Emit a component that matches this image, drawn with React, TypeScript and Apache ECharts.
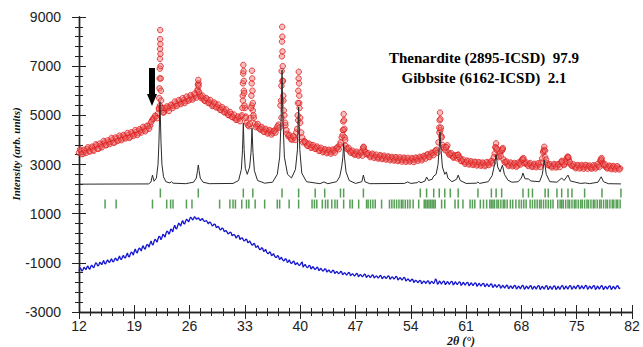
import React, { useEffect, useRef } from "react";
import * as echarts from "echarts";

// ---- data (2θ in degrees, intensity in arb. units) ----
const OBS_START = 12;
const OBS_STEP = 0.25;
// observed intensity on a 0.25° grid, 12° .. 80.5°
const obsGrid = [
  3480, 3560, 3440, 3530, 3620, 3540, 3660, 3590, 3700, 3780, 3650, 3760,
  3830, 3900, 3800, 3910, 3920, 4010, 3900, 4050, 3990, 4100, 4060, 4150,
  4110, 4200, 4130, 4250, 4230, 4330, 4270, 4380, 4400, 4470, 4420, 4560,
  4580, 4800, 4900, 4960, 5080, 5400, 5200, 5120, 5230, 5300, 5320, 5400,
  5380, 5480, 5450, 5560, 5530, 5620, 5580, 5680, 5650, 5760, 5720, 5820,
  6000, 5850, 5700, 5680, 5580, 5640, 5520, 5480, 5400, 5460, 5340, 5300,
  5220, 5260, 5140, 5100, 5000, 5050, 4920, 4900, 4820, 4870, 4950, 5600,
  5300, 4700, 4560, 4900, 5200, 4650, 4580, 4500, 4420, 4460, 4330, 4380,
  4300, 4340, 4280, 4380, 4450, 4620, 5400, 6400, 5000, 4400, 4150, 4100,
  4020, 4100, 4300, 4800, 4900, 4100, 3950, 3880, 3760, 3800, 3700, 3720,
  3640, 3680, 3580, 3600, 3530, 3580, 3500, 3560, 3500, 3560, 3620, 3700,
  3800, 4100, 4400, 3750, 3620, 3560, 3500, 3460, 3420, 3460, 3400, 3480,
  3700, 3500, 3420, 3380, 3350, 3400, 3320, 3300, 3280, 3340, 3260, 3300,
  3240, 3290, 3220, 3260, 3200, 3250, 3180, 3230, 3190, 3240, 3160, 3200,
  3170, 3230, 3180, 3250, 3220, 3280, 3240, 3330, 3380, 3320, 3400, 3460,
  3500, 3600, 3900, 4400, 3800, 3650, 3700, 3480, 3420, 3350, 3300, 3360,
  3400, 3250, 3150, 3100, 3080, 3120, 3040, 3080, 3020, 3080, 3000, 3050,
  2990, 3040, 2980, 3060, 3050, 3150, 3300, 3700, 3350, 3450, 3550, 3200,
  3080, 3020, 2980, 3030, 2970, 3020, 2960, 3050, 3150, 3200, 3050, 3000,
  3020, 2960, 2940, 2990, 2950, 3000, 3080, 3500, 3300, 3050, 2960, 2930,
  2940, 2990, 2920, 3000, 3080, 3050, 3020, 3250, 3200, 3000, 2940, 2900,
  2900, 2950, 2880, 2930, 2890, 2950, 2920, 2880, 2880, 2930, 2900, 2960,
  3150, 3100, 2950, 2900, 2870, 2920, 2850, 2900, 2850, 2880, 2840,
];
// observed intensity at the intermediate steps, 12.125° .. 80.375°
const obsGridMid = [
  3610, 3420, 3600, 3470, 3700, 3530, 3720, 3560, 3820, 3640, 3850, 3700,
  3960, 3780, 3980, 3830, 4080, 3880, 4100, 3960, 4170, 3990, 4200, 4060,
  4280, 4080, 4310, 4160, 4400, 4200, 4430, 4300, 4530, 4350, 4580, 4460,
  4720, 4850, 4980, 4880, 5250, 5300, 5120, 5300, 5360, 5180, 5430, 5300,
  5560, 5380, 5620, 5460, 5700, 5500, 5760, 5600, 5820, 5640, 5880, 5720,
  6300, 5780, 5800, 5600, 5700, 5500, 5620, 5380, 5520, 5320, 5440, 5220,
  5330, 5120, 5240, 5020, 5130, 4930, 5030, 4820, 4950, 4760, 5000, 6000,
  4950, 4600, 4650, 5400, 4900, 4520, 4650, 4440, 4520, 4330, 4450, 4260,
  4400, 4220, 4360, 4300, 4550, 4500, 4900, 5600, 4600, 4250, 4200, 4020,
  4150, 4000, 4450, 5500, 4300, 3900, 3920, 3770, 3850, 3680, 3790, 3640,
  3730, 3550, 3680, 3500, 3620, 3460, 3600, 3440, 3610, 3480, 3680, 3620,
  3900, 4200, 4100, 3650, 3680, 3480, 3560, 3400, 3520, 3360, 3500, 3360,
  3580, 3420, 3460, 3300, 3440, 3270, 3400, 3240, 3380, 3220, 3360, 3200,
  3330, 3170, 3310, 3160, 3300, 3140, 3290, 3120, 3280, 3110, 3270, 3120,
  3260, 3100, 3280, 3150, 3310, 3170, 3350, 3240, 3420, 3300, 3480, 3380,
  3560, 3480, 4300, 4150, 3700, 3580, 3780, 3400, 3460, 3280, 3380, 3250,
  3300, 3140, 3200, 3030, 3160, 3000, 3130, 2980, 3110, 2960, 3100, 2950,
  3080, 2930, 3100, 2980, 3120, 3050, 3450, 3600, 3300, 3350, 3620, 3100,
  3120, 2940, 3080, 2930, 3060, 2910, 3080, 3000, 3220, 3050, 3080, 2940,
  3060, 2900, 3030, 2890, 3050, 2900, 3250, 3600, 3200, 2980, 3010, 2880,
  3020, 2880, 3010, 2900, 3150, 2980, 3120, 3280, 3100, 2950, 3000, 2850,
  2980, 2840, 2980, 2830, 2980, 2830, 2960, 2830, 2970, 2840, 3010, 2900,
  3200, 3000, 3000, 2840, 2950, 2810, 2940, 2800, 2930, 2800,
];
// extra observed points on the sharp Bragg peaks [2θ, intensity]
const obsPeaks: [number, number][] = [
  [22.12, 5300], [22.16, 5700], [22.19, 6100], [22.21, 6500], [22.23, 6900], [22.25, 7300],
  [22.26, 7700], [22.27, 8100], [22.28, 8470], [22.3, 7900], [22.31, 7500], [22.33, 7000],
  [22.35, 6500], [22.37, 6000], [22.4, 5600], [22.45, 5300],
  [27.02, 6050], [27.06, 6250], [27.1, 6440], [27.14, 6200], [27.2, 5950],
  [32.68, 5300], [32.72, 5800], [32.75, 6300], [32.78, 6700], [32.8, 7050], [32.83, 6800],
  [32.86, 6400], [32.9, 5900], [32.95, 5400], [33.05, 4900],
  [33.78, 5300], [33.82, 5800], [33.86, 6300], [33.9, 6815], [33.93, 6500], [33.96, 6000],
  [34.0, 5500], [34.08, 5000],
  [37.58, 5600], [37.62, 6200], [37.65, 6800], [37.68, 7400], [37.7, 8000], [37.72, 8600],
  [37.74, 8200], [37.76, 7600], [37.79, 7000], [37.82, 6400], [37.86, 5800], [37.92, 5200],
  [38.1, 4700],
  [39.68, 5000], [39.72, 5500], [39.76, 6000], [39.8, 6500], [39.82, 6770], [39.85, 6300],
  [39.88, 5800], [39.92, 5300], [40.0, 4700],
  [45.4, 4400], [45.45, 4750], [45.5, 5050], [45.55, 4800], [45.6, 4450], [45.7, 4000],
  [47.95, 3650], [48.02, 3720],
  [57.6, 4500], [57.65, 4800], [57.7, 5110], [57.75, 4850], [57.8, 4500], [57.9, 4100],
  [58.45, 3700], [59.95, 3390],
  [64.7, 3700], [64.8, 3860], [64.9, 3650], [65.55, 3600], [65.65, 3670],
  [68.15, 3200], [68.25, 3260], [70.8, 3550], [70.9, 3720], [71.0, 3560],
  [73.1, 3110], [73.85, 3320], [73.95, 3300], [78.05, 3200], [78.15, 3260],
];
// calculated profile [2θ, intensity]
const calcPts: [number, number][] = [
  [12, 2200], [20.8, 2210], [21.1, 2280], [21.3, 2570], [21.5, 2320], [21.8, 2450], [22.0, 3000],
  [22.12, 3900], [22.25, 5555], [22.38, 3900], [22.5, 3000], [22.7, 2500], [23.0, 2300],
  [23.5, 2250], [23.7, 2300], [23.9, 2240], [25.5, 2220], [26.5, 2280], [26.85, 2450],
  [27.0, 2750], [27.1, 2980], [27.2, 2750], [27.35, 2450], [27.7, 2280], [28.5, 2220],
  [31.5, 2230], [32.2, 2350], [32.55, 2800], [32.7, 3600], [32.8, 4690], [32.9, 3600],
  [33.05, 2850], [33.3, 2600], [33.6, 2900], [33.78, 3500], [33.9, 4480], [34.02, 3500],
  [34.2, 2750], [34.6, 2350], [35.5, 2240], [36.5, 2280], [37.1, 2600], [37.4, 3300],
  [37.58, 4800], [37.7, 6840], [37.82, 4800], [38.0, 3300], [38.4, 2600], [38.9, 2450],
  [39.4, 2800], [39.65, 3600], [39.8, 5340], [39.95, 3600], [40.2, 2650], [40.8, 2300],
  [42.5, 2220], [43.0, 2290], [43.5, 2220], [44.6, 2300], [45.0, 2500], [45.25, 2900],
  [45.4, 3300], [45.5, 3860], [45.6, 3300], [45.8, 2700], [46.2, 2350], [47.0, 2230],
  [47.8, 2300], [48.0, 2570], [48.2, 2300], [48.8, 2220], [53.2, 2230], [53.6, 2290],
  [54.0, 2230], [54.8, 2260], [55.0, 2310], [55.3, 2260], [55.8, 2330], [56.0, 2490],
  [56.25, 2350], [56.7, 2400], [56.9, 2530], [57.2, 2600], [57.45, 3000], [57.6, 3700],
  [57.7, 4330], [57.8, 3700], [58.0, 2900], [58.3, 2600], [58.5, 2700], [58.7, 2450],
  [59.2, 2300], [59.8, 2400], [60.0, 2570], [60.25, 2350], [61.0, 2230], [62.3, 2240],
  [62.5, 2290], [62.7, 2230], [63.8, 2300], [64.3, 2550], [64.6, 3000], [64.8, 3400],
  [65.0, 2900], [65.3, 2700], [65.6, 2980], [65.85, 2600], [66.3, 2360], [66.8, 2280],
  [67.6, 2300], [68.0, 2450], [68.2, 2650], [68.45, 2420], [68.9, 2410], [69.2, 2330],
  [70.3, 2300], [70.65, 2600], [70.9, 3180], [71.15, 2600], [71.6, 2300], [72.5, 2280],
  [73.1, 2450], [73.4, 2350], [73.9, 2570], [74.2, 2330], [75.5, 2230], [76.1, 2250],
  [76.6, 2220], [77.7, 2280], [78.1, 2500], [78.4, 2300], [79.0, 2220], [80.6, 2210],
];
// difference curve on the 0.25° grid
const diffGrid = [
  -1320, -1250, -1290, -1220, -1180, -1230, -1140, -1170, -1090, -1040, -1100, -1010,
  -990, -1030, -940, -960, -900, -940, -860, -880, -810, -850, -760, -790,
  -690, -730, -640, -600, -530, -560, -470, -430, -380, -410, -320, -280,
  -210, -240, -130, -90, -30, 60, 30, 120, 190, 260, 240, 340,
  440, 400, 520, 560, 640, 600, 700, 730, 770, 820, 790, 840,
  800, 760, 780, 730, 700, 650, 660, 580, 530, 560, 460, 420,
  360, 390, 300, 250, 200, 230, 140, 110, 50, 90, 0, -30,
  -100, -60, -160, -200, -280, -240, -350, -390, -450, -420, -510, -560,
  -620, -590, -680, -720, -780, -730, -830, -860, -900, -860, -950, -970,
  -1000, -960, -1040, -1060, -1080, -960, -1110, -1140, -1170, -1130, -1200, -1220,
  -1240, -1210, -1270, -1290, -1300, -1260, -1330, -1350, -1360, -1320, -1390, -1400,
  -1410, -1370, -1440, -1450, -1450, -1410, -1480, -1490, -1490, -1450, -1510, -1520,
  -1520, -1480, -1550, -1540, -1550, -1510, -1570, -1560, -1570, -1540, -1600, -1580,
  -1590, -1550, -1620, -1600, -1610, -1580, -1650, -1640, -1650, -1620, -1700, -1690,
  -1720, -1680, -1750, -1740, -1770, -1730, -1800, -1760, -1790, -1740, -1820, -1780,
  -1790, -1700, -1830, -1790, -1800, -1760, -1840, -1800, -1810, -1770, -1850, -1820,
  -1830, -1790, -1870, -1840, -1850, -1810, -1890, -1860, -1870, -1830, -1910, -1880,
  -1890, -1850, -1930, -1900, -1920, -1870, -1960, -1930, -1950, -1910, -1990, -1960,
  -1970, -1930, -2010, -1980, -1980, -1940, -2020, -1990, -1980, -1940, -2030, -1990,
  -1990, -1950, -2030, -1990, -1990, -1940, -2030, -2000, -1990, -1950, -2040, -2000,
  -2000, -1950, -2040, -2010, -1990, -1940, -2030, -2000, -1990, -1940, -2030, -1990,
  -1980, -1930, -2020, -1990, -1980, -1940, -2030, -1990, -1990, -1940, -2040, -2000,
  -1990, -1950, -2040, -2000, -2000, -1950, -2040, -2000, -1990, -1950, -2010,
];
// difference curve at the intermediate steps, 12.125° .. 80.375°
const diffGridMid = [
  -1200, -1340, -1180, -1280, -1130, -1260, -1090, -1200, -1000, -1130, -970, -1080,
  -900, -1040, -880, -990, -830, -960, -800, -910, -720, -860, -690, -800,
  -600, -760, -560, -690, -440, -600, -400, -520, -300, -450, -250, -360,
  -110, -280, -40, -160, 80, -60, 160, 40, 290, 160, 380, 260,
  530, 380, 620, 490, 720, 580, 780, 660, 860, 740, 880, 770,
  830, 720, 800, 680, 720, 580, 650, 500, 580, 430, 480, 340,
  420, 270, 310, 170, 250, 100, 150, 10, 120, -50, 20, -110,
  -30, -180, -110, -270, -200, -370, -300, -460, -380, -540, -450, -620,
  -550, -710, -620, -780, -700, -870, -770, -920, -830, -990, -880, -1030,
  -930, -1080, -990, -1110, -1010, -1180, -1060, -1200, -1100, -1250, -1150, -1270,
  -1170, -1320, -1220, -1340, -1240, -1380, -1290, -1400, -1300, -1440, -1350, -1450,
  -1350, -1490, -1400, -1500, -1390, -1530, -1440, -1540, -1430, -1570, -1470, -1570,
  -1460, -1600, -1500, -1600, -1490, -1620, -1530, -1620, -1510, -1650, -1550, -1640,
  -1530, -1670, -1570, -1660, -1550, -1700, -1600, -1700, -1590, -1740, -1650, -1760,
  -1660, -1800, -1710, -1810, -1710, -1850, -1740, -1840, -1730, -1860, -1750, -1850,
  -1650, -1880, -1740, -1870, -1740, -1890, -1760, -1880, -1750, -1900, -1770, -1890,
  -1770, -1920, -1790, -1910, -1790, -1940, -1810, -1930, -1810, -1960, -1830, -1950,
  -1830, -1980, -1850, -1970, -1860, -2010, -1880, -2000, -1890, -2040, -1910, -2030,
  -1910, -2060, -1930, -2050, -1920, -2070, -1940, -2060, -1920, -2080, -1940, -2060,
  -1930, -2080, -1950, -2070, -1930, -2090, -1950, -2070, -1930, -2090, -1950, -2080,
  -1940, -2090, -1950, -2080, -1930, -2080, -1940, -2070, -1930, -2080, -1940, -2060,
  -1920, -2070, -1930, -2060, -1920, -2080, -1940, -2060, -1930, -2090, -1940, -2070,
  -1930, -2090, -1950, -2070, -1940, -2090, -1950, -2070, -1930, -2060,
];
// Bragg reflection positions (2θ)
const braggThenardite = [
  22.3, 27.1, 32.8, 34.0, 37.7, 39.8, 41.9, 43.1, 45.1, 45.5, 48.0, 55.2, 56.0, 56.9,
  57.6, 58.3, 59.0, 60.0, 62.5, 64.2, 64.8, 65.5, 68.2, 68.9, 69.4, 71.0, 71.4, 72.5,
  73.1, 73.9, 74.4, 76.0, 78.2, 80.6,
];
const braggGibbsite = [
  15.3, 16.7, 21.3, 23.1, 23.6, 23.9, 25.6, 26.3, 29.8, 31.1, 31.5, 31.8, 32.6, 33.2,
  33.5, 34.3, 35.5, 37.1, 37.4, 38.6, 39.8, 41.5, 41.8, 42.1, 42.8, 43.2, 43.5, 44.0,
  44.4, 44.7, 45.5, 46.3, 46.6, 47.4, 48.4, 48.6, 48.9, 49.2, 49.5, 50.3, 51.3, 51.6,
  51.9, 52.2, 52.5, 52.8, 53.0, 53.3, 53.6, 53.9, 54.3, 55.0, 55.7, 55.9, 56.1, 56.3,
  56.5, 56.7, 56.9, 57.1, 57.9, 58.3, 59.6, 60.0, 60.6, 61.5, 61.8, 62.1, 62.8, 63.2,
  63.6, 64.0, 64.2, 64.4, 64.6, 64.9, 65.1, 65.4, 65.7, 65.9, 66.2, 66.6, 66.9, 67.3,
  67.7, 68.0, 68.3, 68.6, 69.1, 69.4, 69.7, 70.0, 70.3, 70.5, 70.8, 71.1, 71.4, 71.7,
  72.0, 72.6, 72.9, 73.1, 73.3, 73.6, 73.9, 74.1, 74.4, 74.7, 74.9, 75.2, 75.5, 75.7,
  76.0, 76.3, 76.5, 76.8, 77.1, 77.3, 77.6, 77.9, 78.1, 78.4, 78.7, 78.9, 79.2, 79.5,
  79.7, 80.0, 80.2, 80.5,
];
const phaseLabels = ["Thenardite (2895-ICSD)  97.9", "Gibbsite (6162-ICSD)  2.1"];

// axis ranges
const X_MIN = 12, X_MAX = 82, X_STEP = 7;
const Y_MIN = -3000, Y_MAX = 9000, Y_STEP = 2000;
// vertical levels (intensity units) of the two reflection-marker rows
const ROW1_LEVEL = 1840;
const ROW2_LEVEL = 1390;

export default function App() {
  const ref = useRef<HTMLDivElement>(null);
  useEffect(() => {
    if (!ref.current) return;
    const chart = echarts.init(ref.current, undefined, { renderer: "svg" });
    // shift axes so that min is 0 (ticks start at a multiple of the interval)
    const sx = (x: number) => x - X_MIN;
    const sy = (y: number) => y - Y_MIN;
    const half = OBS_STEP / 2;

    const obsData: number[][] = [];
    obsGrid.forEach((v, i) => obsData.push([sx(OBS_START + i * OBS_STEP), sy(v)]));
    obsGridMid.forEach((v, i) => obsData.push([sx(OBS_START + half + i * OBS_STEP), sy(v)]));
    obsPeaks.forEach(([x, y]) => obsData.push([sx(x), sy(y)]));

    const diffData: number[][] = [];
    diffGrid.forEach((v, i) => {
      diffData.push([sx(OBS_START + i * OBS_STEP), sy(v)]);
      if (i < diffGridMid.length) diffData.push([sx(OBS_START + half + i * OBS_STEP), sy(diffGridMid[i])]);
    });
    const calcData = calcPts.map(([x, y]) => [sx(x), sy(y)]);
    const row1 = braggThenardite.map((x) => [sx(x), sy(ROW1_LEVEL)]);
    const row2 = braggGibbsite.map((x) => [sx(x), sy(ROW2_LEVEL)]);

    const labelFont = { fontFamily: "Liberation Sans, Arial, sans-serif", fontSize: 14, color: "#222" };
    const axisLine = { show: true, lineStyle: { color: "#222", width: 1.4 } };
    const tick = { show: true, inside: true, length: 7, lineStyle: { color: "#222", width: 1 } };
    const minor = { show: true, splitNumber: 5, length: 4, lineStyle: { color: "#222", width: 1 } };
    const xBase = { type: "value", min: 0, max: X_MAX - X_MIN, interval: X_STEP, splitLine: { show: false }, axisLine, axisTick: tick, minorTick: minor };
    const yBase = { type: "value", min: 0, max: Y_MAX - Y_MIN, interval: Y_STEP, splitLine: { show: false }, axisLine, axisTick: tick, minorTick: minor };

    chart.setOption({
      animation: false,
      grid: { left: 79, right: 11, top: 17, bottom: 35 },
      xAxis: [
        { ...xBase, position: "bottom", axisLabel: { ...labelFont, margin: 7, formatter: (v: number) => String(v + X_MIN) } },
        { ...xBase, position: "top", axisLabel: { show: false } },
      ],
      yAxis: [
        { ...yBase, position: "left", axisLabel: { ...labelFont, margin: 18, formatter: (v: number) => String(v + Y_MIN) } },
        { ...yBase, position: "right", axisLabel: { show: false } },
      ],
      series: [
        {
          type: "scatter", data: obsData, symbol: "circle", symbolSize: 5.5,
          itemStyle: { color: "rgba(235,110,110,0.55)", borderColor: "#e01e1e", borderWidth: 1 },
          z: 2,
        },
        {
          type: "line", data: calcData, showSymbol: false, symbol: "none",
          lineStyle: { color: "#2a2a2a", width: 1 }, z: 3,
        },
        {
          type: "scatter", data: row1, symbol: "rect", symbolSize: [1.5, 9],
          itemStyle: { color: "#2a862a" }, z: 2,
        },
        {
          type: "scatter", data: row2, symbol: "rect", symbolSize: [1.5, 9],
          itemStyle: { color: "#2a862a" }, z: 2,
        },
        {
          type: "line", data: diffData, showSymbol: false, symbol: "none",
          lineStyle: { color: "#1515d0", width: 1.3 }, z: 2,
        },
      ],
      graphic: [
        {
          type: "text", x: 484, y: 58,
          style: { text: phaseLabels[0], font: "bold 15px 'Liberation Serif', 'Times New Roman', serif", fill: "#000", align: "center", verticalAlign: "middle" },
        },
        {
          type: "text", x: 484, y: 78,
          style: { text: phaseLabels[1], font: "bold 15px 'Liberation Serif', 'Times New Roman', serif", fill: "#000", align: "center", verticalAlign: "middle" },
        },
        {
          type: "text", x: 16, y: 154, rotation: Math.PI / 2,
          style: { text: "Intensity (arb. units)", font: "italic bold 11px 'Liberation Serif', 'Times New Roman', serif", fill: "#111", align: "center", verticalAlign: "middle" },
        },
        {
          type: "text", x: 461, y: 341,
          style: { text: "2θ (°)", font: "italic bold 12px 'Liberation Serif', 'Times New Roman', serif", fill: "#111", align: "center", verticalAlign: "middle" },
        },
        {
          type: "polygon",
          shape: { points: [[149, 68], [155, 68], [155, 94], [157, 94], [152, 106], [147, 94], [149, 94]] },
          style: { fill: "#000" },
        },
      ],
    });
    return () => chart.dispose();
  }, []);
  return <div ref={ref} style={{ position: "fixed", left: 0, top: 0, width: 643, height: 347, background: "#fff" }} />;
}
